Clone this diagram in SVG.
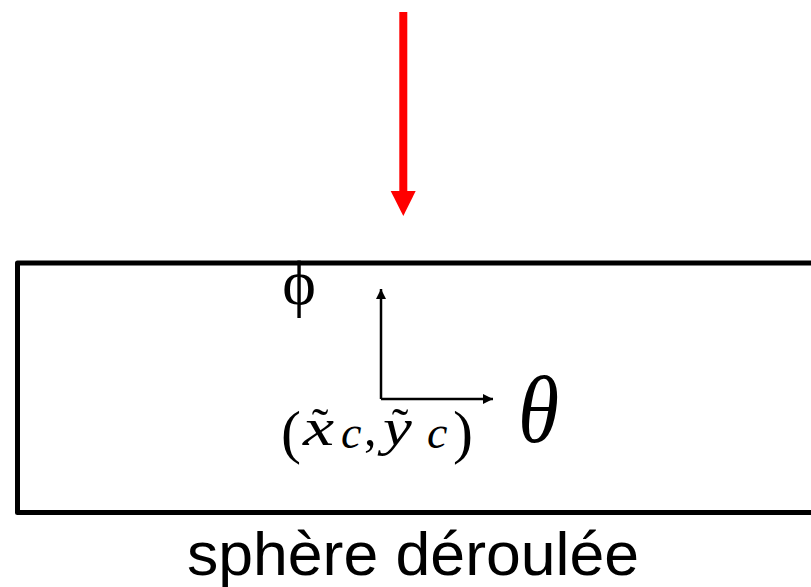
<svg xmlns="http://www.w3.org/2000/svg" width="811" height="587" viewBox="0 0 811 587">
<style>
.serif{font-family:"Liberation Serif","Times New Roman",serif;fill:#000}
.it{font-style:italic}
.sans{font-family:"Liberation Sans",Arial,sans-serif;fill:#000}
.axis{stroke:#000;stroke-width:2.5;fill:none}
</style>
<defs>
<marker id="ah" viewBox="0 0 10 10" refX="10" refY="5" markerWidth="10" markerHeight="10" markerUnits="userSpaceOnUse" orient="auto">
<path d="M0,0 L10,5 L0,10 z" fill="#000"/>
</marker>
</defs>
<rect x="0" y="0" width="811" height="587" fill="#fff"/>
<g id="sphere">
<rect x="17.5" y="263" width="820" height="249.5" fill="none" stroke="#000" stroke-width="5" stroke-linejoin="round"/>
<text class="sans" x="187" y="575" font-size="62" textLength="452" lengthAdjust="spacingAndGlyphs">sphère déroulée</text>
</g>
<g id="connectors">
<line x1="403.3" y1="12" x2="403.3" y2="192" stroke="#ff0000" stroke-width="8"/>
<path d="M390.7,191 L415.7,191 L403.3,216 z" fill="#ff0000"/>
<path class="axis" d="M381,399 L381,289" marker-end="url(#ah)"/>
<path class="axis" d="M381,399 L493,399" marker-end="url(#ah)"/>
</g>
<g id="phi-label">
<text class="serif" x="299" y="304" font-size="64" text-anchor="middle">ϕ</text>
</g>
<g id="theta-label">
<text class="serif it" transform="translate(518,442) scale(0.88,1)" x="0" y="0" font-size="95">θ</text>
</g>
<g id="centre-label">
<text class="serif" x="281" y="452" font-size="60">(</text>
<text class="serif it" transform="translate(303,445) scale(1.35,1)" x="0" y="0" font-size="52">x</text>
<text class="serif" x="320" y="443" font-size="50" text-anchor="middle">˜</text>
<text class="serif it" x="341" y="448" font-size="46">c</text>
<text class="serif" x="364" y="445" font-size="50">,</text>
<text class="serif it" transform="translate(383,445) scale(1.25,1)" x="0" y="0" font-size="52">y</text>
<text class="serif" x="400" y="443" font-size="50" text-anchor="middle">˜</text>
<text class="serif it" x="427" y="448" font-size="46">c</text>
<text class="serif" x="453" y="452" font-size="60">)</text>
</g>
</svg>
